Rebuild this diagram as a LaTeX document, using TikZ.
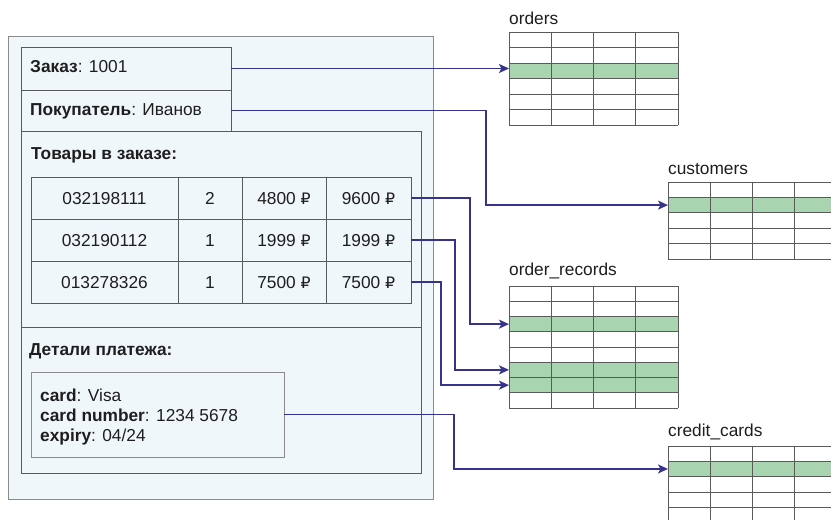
\documentclass[tikz,border=0pt]{standalone}
\usepackage{fontspec}
\setmainfont{Liberation Sans}
\newfontfamily\rubfont{DejaVu Sans}
\usetikzlibrary{arrows.meta}
\definecolor{linkc}{HTML}{37328C}
\definecolor{bgblue}{HTML}{F0F7FB}
\definecolor{rowgreen}{HTML}{A8D5B0}
\definecolor{edgedark}{HTML}{5A5A5A}
\definecolor{edgelight}{HTML}{8C8C8C}
\definecolor{txt}{HTML}{1E1E1E}
\newcommand{\rub}{{\rubfont\fontsize{15.8}{18}\selectfont ₽}}
\begin{document}
\begin{tikzpicture}[x=1pt,y=-1pt,
  font=\fontsize{17.3}{20}\selectfont, text=txt,
  boxn/.style={draw=edgedark, fill=bgblue, anchor=north west, inner sep=0pt, outer sep=0pt, line width=0.8pt},
  boxl/.style={draw=edgelight, fill=bgblue, anchor=north west, inner sep=0pt, outer sep=0pt, line width=0.8pt},
  lbl/.style={anchor=base west, inner sep=0pt},
  cell/.style={draw=edgedark, fill=bgblue, inner sep=0pt, outer sep=0pt, minimum height=42pt, text height=12.5pt, text depth=0pt, line width=0.8pt},
  greenrow/.style={fill=rowgreen, draw=edgedark, anchor=north west, inner sep=0pt, outer sep=0pt, line width=0.8pt},
  gridl/.style={draw=edgedark, line width=0.8pt},
  linkd/.style={draw=linkc, line width=1.6pt, -{Stealth[length=10pt,width=9pt,inset=2.5pt]}}
]
\useasboundingbox (0,0) rectangle (831,520);
\fill[white] (0,0) rectangle (831,520);

% outer document box
\node[boxl, minimum width=425pt, minimum height=463pt] (outer) at (8,36) {};
\node[boxn, minimum width=210pt, minimum height=43pt] (zakaz) at (21,47) {};
\node[boxn, minimum width=210pt, minimum height=41pt] (pokup) at (21,90) {};
\node[boxn, minimum width=400pt, minimum height=196pt] (goods) at (21,131) {};
\node[boxn, minimum width=400pt, minimum height=146pt] (pay) at (21,327) {};
\node[boxl, minimum width=253pt, minimum height=85pt] (card) at (31,372) {};

\node[lbl] (zakazT) at (30,72.5) {\textbf{Заказ}: 1001};
\node[lbl] (pokupT) at (30,115.5) {\textbf{Покупатель}: Иванов};
\node[lbl] (goodsT) at (31,159) {\textbf{Товары в заказе:}};
\node[lbl] (payT) at (29,355) {\textbf{Детали платежа:}};
\node[lbl] (cardA) at (40,401) {\textbf{card}: Visa};
\node[lbl] (cardB) at (40,421) {\textbf{card number}: 1234 5678};
\node[lbl] (cardC) at (40,441) {\textbf{expiry}: 04/24};

% order items table
\node[cell, minimum width=147pt] (r1c1) at (104.5,198) {032198111};
\node[cell, minimum width=64pt]  (r1c2) at (210,198) {2};
\node[cell, minimum width=84pt]  (r1c3) at (284,198) {4800 \rub};
\node[cell, minimum width=85pt]  (r1c4) at (368.5,198) {9600 \rub};
\node[cell, minimum width=147pt] (r2c1) at (104.5,240) {032190112};
\node[cell, minimum width=64pt]  (r2c2) at (210,240) {1};
\node[cell, minimum width=84pt]  (r2c3) at (284,240) {1999 \rub};
\node[cell, minimum width=85pt]  (r2c4) at (368.5,240) {1999 \rub};
\node[cell, minimum width=147pt] (r3c1) at (104.5,282) {013278326};
\node[cell, minimum width=64pt]  (r3c2) at (210,282) {1};
\node[cell, minimum width=84pt]  (r3c3) at (284,282) {7500 \rub};
\node[cell, minimum width=85pt]  (r3c4) at (368.5,282) {7500 \rub};

% ---- orders table
\node[lbl] (ordersL) at (509,24) {orders};
\fill[white] (509,32) rectangle (678,125);
\node[greenrow, minimum width=169pt, minimum height=15.5pt] (ordersG) at (509,63) {};
\foreach \i in {0,...,6} \draw[gridl] (509,32+15.5*\i) -- (678,32+15.5*\i);
\foreach \xx in {509,551.25,593.5,635.75,678} \draw[gridl] (\xx,32) -- (\xx,125);

% ---- customers table
\node[lbl] (custL) at (668,174) {customers};
\fill[white] (668,182) rectangle (840,259);
\node[greenrow, minimum width=172pt, minimum height=15.4pt] (custG) at (668,197.4) {};
\foreach \i in {0,...,5} \draw[gridl] (668,182+15.4*\i) -- (840,182+15.4*\i);
\foreach \xx in {668,710,752,794,836} \draw[gridl] (\xx,182) -- (\xx,259);

% ---- order_records table
\node[lbl] (recL) at (509,275.5) {order\_records};
\fill[white] (509,286) rectangle (678,408);
\node[greenrow, minimum width=169pt, minimum height=15.25pt] (recG1) at (509,316.5) {};
\node[greenrow, minimum width=169pt, minimum height=15.25pt] (recG2) at (509,362.25) {};
\node[greenrow, minimum width=169pt, minimum height=15.25pt] (recG3) at (509,377.5) {};
\foreach \i in {0,...,8} \draw[gridl] (509,286+15.25*\i) -- (678,286+15.25*\i);
\foreach \xx in {509,551.25,593.5,635.75,678} \draw[gridl] (\xx,286) -- (\xx,408);

% ---- credit_cards table
\node[lbl] (ccL) at (668,436.5) {credit\_cards};
\fill[white] (668,446) rectangle (840,525);
\node[greenrow, minimum width=172pt, minimum height=15.3pt] (ccG) at (668,461.3) {};
\foreach \i in {0,...,5} \draw[gridl] (668,446+15.3*\i) -- (840,446+15.3*\i);
\foreach \xx in {668,710,752,794,836} \draw[gridl] (\xx,446) -- (\xx,525);

% ---- connectors
\draw[linkd] (zakaz.east) -- (zakaz.east -| ordersG.west);
\draw[linkd] (pokup.east) -- ++(255,0) |- (custG.west);
\draw[linkd] (r1c4.east) -- ++(59,0) |- (recG1.west);
\draw[linkd] (r2c4.east) -- ++(44,0) |- (recG2.west);
\draw[linkd] (r3c4.east) -- ++(30,0) |- (recG3.west);
\draw[linkd] (card.east) -- ++(170,0) |- (ccG.west);
\end{tikzpicture}
\end{document}
